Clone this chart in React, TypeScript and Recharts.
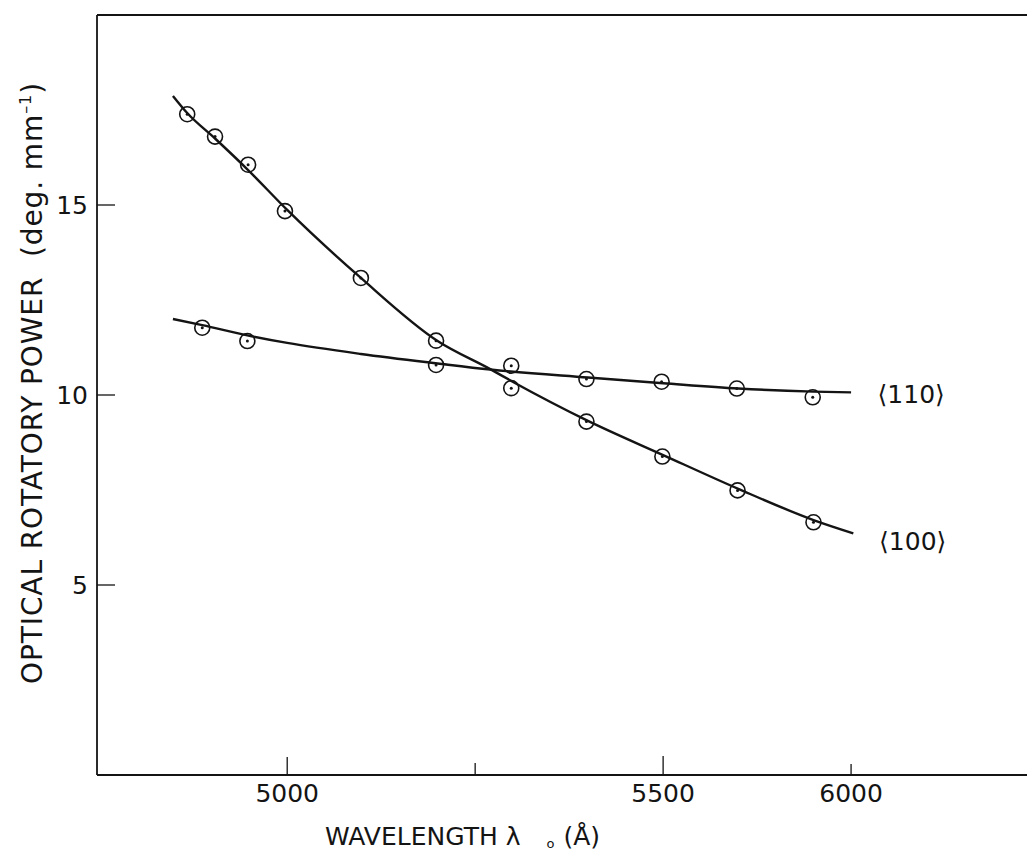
import {
  ComposedChart,
  Label,
  Line,
  ReferenceDot,
  ReferenceLine,
  Scatter,
  XAxis,
  YAxis,
} from 'recharts'

const INK = '#141414'
const FONT = '"DejaVu Sans", sans-serif'

const wl100 = [4867, 4904, 4948, 4997, 5098, 5198, 5298, 5398, 5499, 5599, 5700]
const rot100 = [17.39, 16.8, 16.06, 14.84, 13.08, 11.43, 10.18, 9.3, 8.38, 7.49, 6.65]
const wl110 = [4887, 4947, 5198, 5298, 5398, 5498, 5598, 5699]
const rot110 = [11.77, 11.42, 10.79, 10.77, 10.42, 10.35, 10.17, 9.94]

// the drawn smooth curves
const fitWl100 = [4848, 4867, 4904, 4948, 5000, 5098, 5200, 5270, 5298, 5400, 5500, 5600, 5700, 5753]
const fitRot100 = [17.87, 17.42, 16.75, 15.92, 14.87, 13.08, 11.42, 10.68, 10.37, 9.32, 8.42, 7.53, 6.71, 6.36]
const fitWl110 = [4848, 4887, 4947, 5000, 5098, 5200, 5270, 5400, 5500, 5600, 5700, 5750]
const fitRot110 = [12.0, 11.84, 11.57, 11.37, 11.08, 10.83, 10.67, 10.46, 10.31, 10.17, 10.09, 10.07]

const xTicks = [5000, 5250, 5500, 5750]
const xTickLabels = ['5000', '', '5500', '6000']
const yTicks = [5, 10, 15]

const toPoints = (xs: number[], ys: number[]) => xs.map((x, i) => ({ x, y: ys[i] }))

const tickLen = [18, 12, 19, 11]

function XTick({ x, y, payload, index }: any) {
  const i = xTicks.indexOf(payload.value)
  return (
    <g>
      <line x1={x} x2={x} y1={y} y2={y - (tickLen[index] ?? 14)} stroke={INK} strokeWidth={1.3} />
      <text x={x} y={y + 18} dy="0.355em" textAnchor="middle" fill={INK} fontSize={25} fontFamily={FONT}>
        {xTickLabels[i]}
      </text>
    </g>
  )
}

function YTick({ x, y, payload }: any) {
  return (
    <g>
      <line x1={x} x2={x + 18} y1={y} y2={y} stroke={INK} strokeWidth={1.3} />
      <text x={x - 9} y={y} dy="0.355em" textAnchor="end" fill={INK} fontSize={25} fontFamily={FONT}>
        {payload.value}
      </text>
    </g>
  )
}

function Ring({ cx, cy }: any) {
  return (
    <g>
      <circle cx={cx} cy={cy} r={7.5} fill="none" stroke={INK} strokeWidth={1.6} />
      <circle cx={cx} cy={cy} r={1.5} fill={INK} />
    </g>
  )
}

export default function App() {
  return (
    <div style={{ position: 'absolute', left: 0, top: 0, background: '#fff' }}>
      <ComposedChart width={1027} height={853} margin={{ top: 15, right: 0, bottom: 0, left: 0 }}>
        <XAxis
          type="number"
          dataKey="x"
          domain={[4747, 5984]}
          allowDataOverflow
          ticks={xTicks}
          tickSize={0}
          tickMargin={0}
          tickLine={false}
          tick={<XTick />}
          height={78}
          axisLine={{ stroke: INK, strokeWidth: 1.8 }}
        >
          <Label
            content={() => (
              <text x={325} y={845} fill={INK} fontSize={25} fontFamily={FONT}>
                WAVELENGTH λ
                <tspan dx={26} dy={3} fontSize={13}>o</tspan>
                <tspan dx={9} dy={-3}>(Å)</tspan>
              </text>
            )}
          />
        </XAxis>
        <YAxis
          type="number"
          domain={[0, 20]}
          allowDataOverflow
          ticks={yTicks}
          width={97}
          tickSize={0}
          tickMargin={0}
          tickLine={false}
          tick={<YTick />}
          axisLine={{ stroke: INK, strokeWidth: 1.8 }}
        >
          <Label
            content={() => (
              <text
                x={32}
                y={383}
                dy="0.355em"
                transform="rotate(-90 32 383)"
                textAnchor="middle"
                fill={INK}
                fontSize={28}
                letterSpacing={0.9}
                fontFamily={FONT}
              >
                OPTICAL ROTATORY POWER{'\u00a0\u00a0'}(deg. mm
                <tspan dy={-11} fontSize={16}>–1</tspan>
                <tspan dy={11}>)</tspan>
              </text>
            )}
          />
        </YAxis>
        <ReferenceLine y={20} stroke={INK} strokeWidth={1.8} />
        <Line
          data={toPoints(fitWl100, fitRot100)}
          dataKey="y"
          type="monotone"
          stroke={INK}
          strokeWidth={2.4}
          dot={false}
          isAnimationActive={false}
        />
        <Line
          data={toPoints(fitWl110, fitRot110)}
          dataKey="y"
          type="monotone"
          stroke={INK}
          strokeWidth={2.4}
          dot={false}
          isAnimationActive={false}
        />
        <Scatter data={toPoints(wl100, rot100)} dataKey="y" shape={<Ring />} isAnimationActive={false} />
        <Scatter data={toPoints(wl110, rot110)} dataKey="y" shape={<Ring />} isAnimationActive={false} />
        <ReferenceDot
          x={5830}
          y={10.03}
          r={0}
          fill="none"
          stroke="none"
          label={{ value: '⟨110⟩', position: 'center', fill: INK, fontSize: 25, fontFamily: FONT }}
        />
        <ReferenceDot
          x={5832}
          y={6.16}
          r={0}
          fill="none"
          stroke="none"
          label={{ value: '⟨100⟩', position: 'center', fill: INK, fontSize: 25, fontFamily: FONT }}
        />
      </ComposedChart>
    </div>
  )
}
